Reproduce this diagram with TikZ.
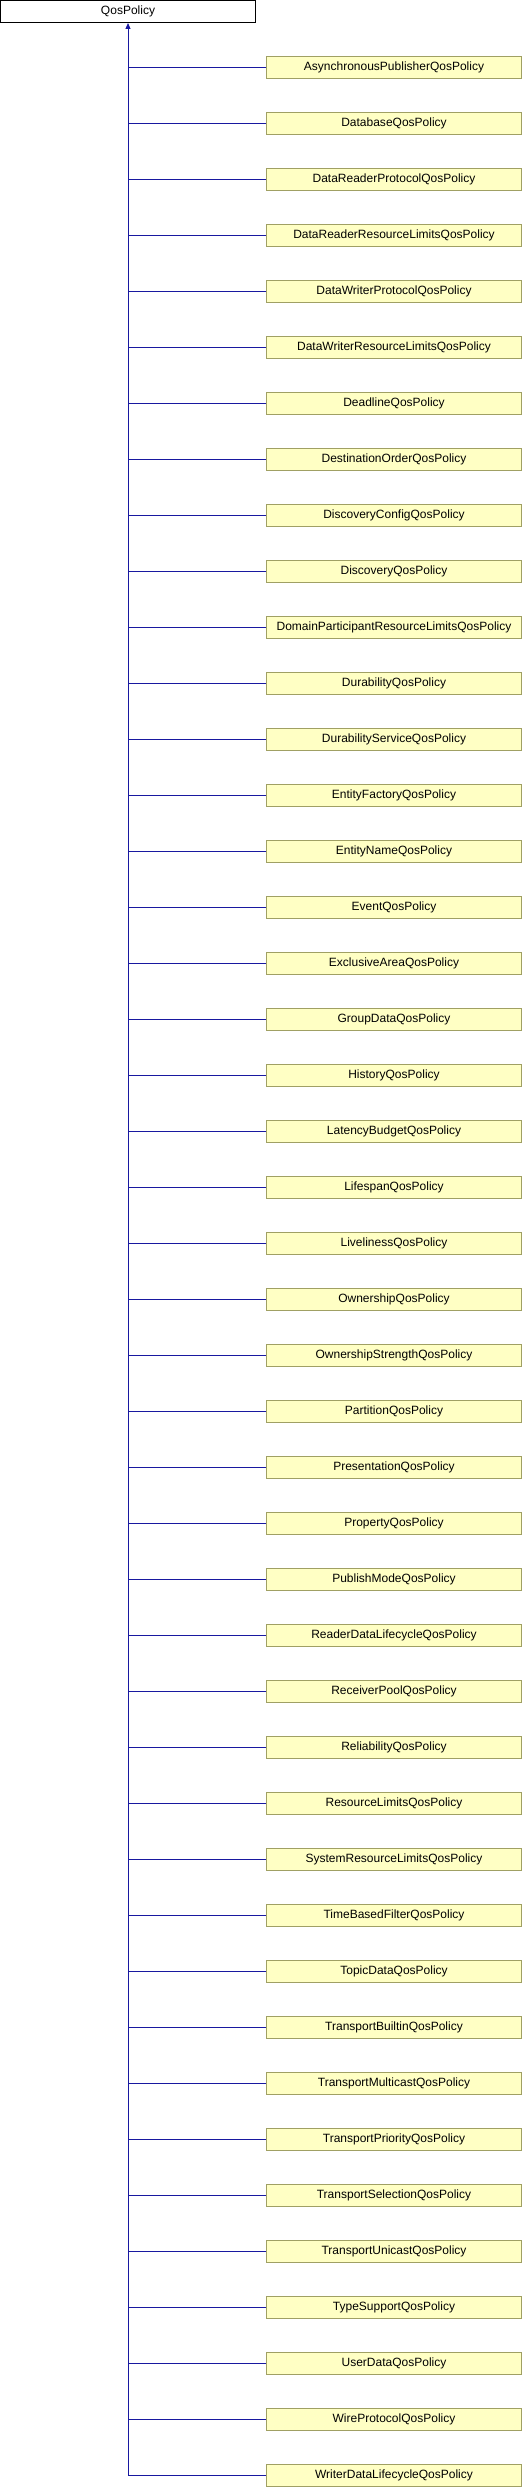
\documentclass[tikz,border=0pt]{standalone}
\usepackage{fontspec}
\setmainfont{Liberation Sans}
\usepackage{tikz}
\usetikzlibrary{arrows.meta,positioning}
\usepackage{xcolor}
\definecolor{inherit}{RGB}{24,24,160}
\definecolor{clsfill}{RGB}{255,255,196}
\definecolor{clsdraw}{RGB}{160,160,100}

\begin{document}
\begin{tikzpicture}[x=1pt,y=1pt,line width=1pt,
  basecls/.style={draw=black,fill=white,minimum width=255pt,minimum height=22pt,inner sep=0pt,font=\fontsize{12}{14}\selectfont},
  cls/.style={draw=clsdraw,fill=clsfill,minimum width=255pt,minimum height=22pt,inner sep=0pt,font=\fontsize{12}{14}\selectfont},
  link/.style={draw=inherit,line width=1pt}]
  \useasboundingbox (0,0) rectangle (524,-2488);
  % base class
  \node[basecls] (base) at (128,-11.5) {QosPolicy};

  % derived classes, one row each
  \foreach \name [count=\i] in {AsynchronousPublisherQosPolicy,DatabaseQosPolicy,
      DataReaderProtocolQosPolicy,DataReaderResourceLimitsQosPolicy,
      DataWriterProtocolQosPolicy,DataWriterResourceLimitsQosPolicy,
      DeadlineQosPolicy,DestinationOrderQosPolicy,DiscoveryConfigQosPolicy,
      DiscoveryQosPolicy,DomainParticipantResourceLimitsQosPolicy,
      DurabilityQosPolicy,DurabilityServiceQosPolicy,EntityFactoryQosPolicy,
      EntityNameQosPolicy,EventQosPolicy,ExclusiveAreaQosPolicy,
      GroupDataQosPolicy,HistoryQosPolicy,LatencyBudgetQosPolicy,
      LifespanQosPolicy,LivelinessQosPolicy,OwnershipQosPolicy,
      OwnershipStrengthQosPolicy,PartitionQosPolicy,PresentationQosPolicy,
      PropertyQosPolicy,PublishModeQosPolicy,ReaderDataLifecycleQosPolicy,
      ReceiverPoolQosPolicy,ReliabilityQosPolicy,ResourceLimitsQosPolicy,
      SystemResourceLimitsQosPolicy,TimeBasedFilterQosPolicy,
      TopicDataQosPolicy,TransportBuiltinQosPolicy,TransportMulticastQosPolicy,
      TransportPriorityQosPolicy,TransportSelectionQosPolicy,
      TransportUnicastQosPolicy,TypeSupportQosPolicy,UserDataQosPolicy,
      WireProtocolQosPolicy,WriterDataLifecycleQosPolicy}
    \node[cls] (c\i) at (394,{-67.5-56*(\i-1)}) {\name};

  % inheritance links
  \foreach \i in {1,...,44}
    \draw[link] (c\i.west) -- (c\i.west -| base.south);
  \draw[link,-{Triangle[width=5pt,length=6pt]}] (c44.west -| base.south) -- (base.south);
\end{tikzpicture}
\end{document}
